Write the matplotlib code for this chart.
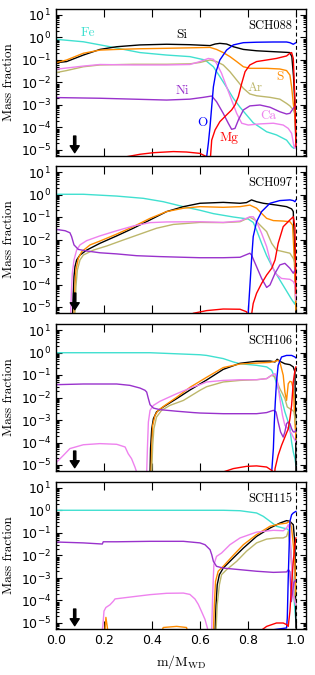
import numpy as np
import matplotlib
matplotlib.use("Agg")
import matplotlib.pyplot as plt
from matplotlib.ticker import LogLocator, NullLocator, FixedLocator

# ---- SCH088 (log10 mass fraction vs m/M_WD) ----
x_fe_088 = [0, 0.114, 0.225, 0.35, 0.461, 0.558, 0.621, 0.656, 0.683, 0.711, 0.739, 0.767, 0.794, 0.822, 0.85, 0.878, 0.919, 0.961, 0.982, 0.992, 1.0]
lg_fe_088 = [-0.08, -0.19, -0.41, -0.67, -0.78, -0.85, -1.0, -1.30, -1.74, -2.21, -2.70, -3.10, -3.44, -3.79, -3.99, -4.19, -4.33, -4.56, -4.85, -4.93, -4.70]
x_si_088 = [0, 0.044, 0.114, 0.183, 0.253, 0.35, 0.461, 0.558, 0.642, 0.663, 0.683, 0.711, 0.739, 0.781, 0.836, 0.906, 0.961, 0.975, 0.983, 0.990, 0.996, 1.0]
lg_si_088 = [-1.12, -1.07, -0.78, -0.53, -0.41, -0.33, -0.30, -0.32, -0.36, -0.29, -0.26, -0.29, -0.41, -0.53, -0.59, -0.63, -0.66, -0.67, -0.85, -1.74, -3.07, -4.85]
x_s_088 = [0, 0.044, 0.114, 0.183, 0.253, 0.35, 0.461, 0.558, 0.642, 0.669, 0.697, 0.725, 0.753, 0.781, 0.808, 0.878, 0.933, 0.961, 0.975, 0.982, 0.989, 0.996, 1.0]
lg_s_088 = [-1.12, -1.0, -0.70, -0.56, -0.53, -0.50, -0.48, -0.46, -0.44, -0.53, -0.67, -0.85, -1.07, -1.30, -1.37, -1.37, -1.40, -1.47, -1.67, -2.19, -2.93, -3.52, -4.26]
x_ar_088 = [0, 0.044, 0.114, 0.183, 0.322, 0.461, 0.558, 0.6, 0.642, 0.669, 0.697, 0.725, 0.753, 0.781, 0.808, 0.836, 0.892, 0.933, 0.961, 0.975, 0.989, 0.996, 1.0]
lg_ar_088 = [-1.56, -1.47, -1.30, -1.22, -1.19, -1.19, -1.17, -1.11, -1.0, -1.07, -1.22, -1.52, -1.89, -2.26, -2.51, -2.59, -2.66, -2.74, -2.93, -3.04, -3.22, -3.37, -3.30]
x_ca_088 = [0, 0.114, 0.183, 0.322, 0.461, 0.558, 0.6, 0.635, 0.656, 0.669, 0.69, 0.711, 0.732, 0.753, 0.774, 0.801, 0.85, 0.906, 0.947, 0.968, 0.982, 0.992, 0.997, 1.0]
lg_ca_088 = [-1.41, -1.27, -1.20, -1.22, -1.22, -1.20, -1.07, -0.93, -0.97, -1.15, -1.59, -2.19, -2.78, -3.37, -3.81, -3.89, -3.84, -3.81, -3.89, -4.04, -4.26, -4.85, -4.93, -4.70]
x_ni_088 = [0, 0.183, 0.322, 0.461, 0.558, 0.614, 0.649, 0.669, 0.697, 0.718, 0.732, 0.746, 0.76, 0.781, 0.808, 0.85, 0.892, 0.933, 0.961, 0.975, 0.989, 0.996, 1.0]
lg_ni_088 = [-2.67, -2.70, -2.74, -2.78, -2.74, -2.66, -2.60, -2.85, -3.37, -3.81, -4.08, -4.04, -3.67, -3.22, -3.04, -3.0, -3.10, -3.30, -3.40, -3.37, -3.15, -3.07, -3.04]
x_o_088 = [0.62, 0.628, 0.635, 0.642, 0.649, 0.656, 0.667, 0.683, 0.711, 0.739, 0.781, 0.836, 0.906, 0.961, 0.975, 0.989, 1.0]
lg_o_088 = [-6.0, -5.30, -4.70, -3.96, -3.07, -2.19, -1.52, -1.0, -0.56, -0.33, -0.23, -0.21, -0.20, -0.20, -0.23, -0.30, -0.23]
x_mg_088 = [0.28, 0.294, 0.35, 0.406, 0.489, 0.544, 0.6, 0.628, 0.642, 0.644, 0.649, 0.663, 0.683, 0.711, 0.732, 0.746, 0.76, 0.774, 0.788, 0.808, 0.836, 0.878, 0.919, 0.961, 0.975, 0.982, 0.989, 0.996, 1.0]
lg_mg_088 = [-5.6, -5.30, -5.19, -5.12, -5.07, -5.09, -5.15, -5.30, -5.6, -5.30, -4.56, -4.11, -3.74, -3.44, -3.22, -3.0, -2.63, -2.04, -1.52, -1.22, -1.07, -1.0, -0.93, -0.82, -0.70, -0.67, -0.93, -2.78, -4.85]

# ---- SCH097 ----
x_fe_097 = [0, 0.114, 0.253, 0.364, 0.447, 0.531, 0.6, 0.656, 0.739, 0.801, 0.822, 0.836, 0.857, 0.878, 0.906, 0.933, 0.961, 0.982, 0.996, 1.0]
lg_fe_097 = [0.01, 0.01, -0.07, -0.17, -0.32, -0.54, -0.70, -0.85, -1.0, -1.09, -1.24, -1.58, -2.17, -2.72, -3.31, -3.80, -4.29, -4.66, -4.88, -4.61]
x_si_097 = [0.067, 0.069, 0.072, 0.075, 0.079, 0.086, 0.100, 0.128, 0.183, 0.253, 0.322, 0.392, 0.461, 0.531, 0.6, 0.697, 0.767, 0.794, 0.815, 0.836, 0.864, 0.919, 0.961, 0.982, 0.989, 0.993, 0.997, 1.0]
lg_si_097 = [-5.8, -5.28, -4.39, -3.65, -3.21, -2.91, -2.69, -2.47, -2.17, -1.84, -1.50, -1.13, -0.76, -0.54, -0.39, -0.35, -0.39, -0.36, -0.24, -0.32, -0.39, -0.47, -0.54, -0.64, -0.76, -2.17, -3.65, -5.28]
x_s_097 = [0.072, 0.075, 0.079, 0.083, 0.093, 0.107, 0.142, 0.183, 0.253, 0.322, 0.392, 0.461, 0.531, 0.6, 0.697, 0.767, 0.808, 0.822, 0.836, 0.857, 0.878, 0.906, 0.947, 0.975, 0.986, 0.992, 0.996, 1.0]
lg_s_097 = [-5.8, -5.28, -4.10, -3.36, -2.84, -2.54, -2.24, -2.07, -1.76, -1.43, -1.06, -0.76, -0.61, -0.54, -0.57, -0.54, -0.47, -0.54, -0.61, -0.84, -1.06, -1.16, -1.18, -1.21, -1.36, -2.61, -3.65, -5.13]
x_ar_097 = [0.076, 0.079, 0.083, 0.089, 0.100, 0.114, 0.156, 0.211, 0.281, 0.350, 0.419, 0.489, 0.6, 0.697, 0.767, 0.808, 0.829, 0.857, 0.878, 0.899, 0.919, 0.947, 0.975, 0.989, 0.996, 1.0]
lg_ar_097 = [-5.8, -5.28, -4.10, -3.36, -2.91, -2.69, -2.47, -2.29, -2.02, -1.76, -1.50, -1.33, -1.24, -1.25, -1.21, -1.01, -1.13, -1.43, -1.65, -2.17, -2.47, -2.54, -2.61, -2.84, -3.06, -3.36]
x_ca_097 = [0.058, 0.061, 0.064, 0.068, 0.075, 0.086, 0.100, 0.128, 0.183, 0.253, 0.322, 0.392, 0.461, 0.6, 0.697, 0.767, 0.808, 0.822, 0.836, 0.857, 0.878, 0.892, 0.913, 0.940, 0.975, 0.989, 0.996, 1.0]
lg_ca_097 = [-5.8, -5.28, -4.39, -3.50, -2.91, -2.47, -2.24, -2.05, -1.84, -1.61, -1.40, -1.25, -1.22, -1.21, -1.24, -1.18, -0.99, -0.99, -1.21, -1.73, -2.32, -2.91, -3.50, -3.73, -3.77, -3.87, -4.02, -4.69]
x_ni_097 = [0, 0.038, 0.058, 0.065, 0.075, 0.093, 0.128, 0.183, 0.253, 0.336, 0.433, 0.531, 0.6, 0.697, 0.767, 0.808, 0.815, 0.836, 0.857, 0.878, 0.892, 0.913, 0.933, 0.954, 0.975, 0.989, 0.996, 1.0]
lg_ni_097 = [-1.55, -1.61, -1.70, -1.87, -2.24, -2.44, -2.51, -2.59, -2.64, -2.72, -2.76, -2.79, -2.81, -2.81, -2.79, -2.61, -2.69, -3.21, -3.73, -4.13, -4.02, -3.50, -3.13, -3.06, -3.28, -3.50, -3.36, -3.06]
x_o_097 = [0.799, 0.801, 0.808, 0.815, 0.822, 0.836, 0.857, 0.892, 0.933, 0.975, 0.989, 0.996, 1.0]
lg_o_097 = [-5.8, -5.28, -4.10, -2.91, -1.87, -1.21, -0.76, -0.39, -0.27, -0.24, -0.27, -0.32, -0.24]
x_mg_097 = [0.544, 0.572, 0.628, 0.697, 0.767, 0.794, 0.806, 0.811, 0.817, 0.822, 0.836, 0.857, 0.878, 0.899, 0.913, 0.926, 0.947, 0.975, 0.989, 0.996, 1.0]
lg_mg_097 = [-5.5, -5.28, -5.16, -5.09, -5.10, -5.21, -5.5, -5.7, -5.2, -4.84, -4.39, -3.95, -3.58, -3.28, -2.91, -2.17, -1.43, -1.13, -0.99, -1.43, -4.39]

# ---- SCH106 ----
x_fe_106 = [0, 0.183, 0.392, 0.6, 0.628, 0.697, 0.739, 0.767, 0.836, 0.878, 0.899, 0.913, 0.926, 0.940, 0.954, 0.968, 0.975, 0.982, 0.989, 0.996, 1.0]
lg_fe_106 = [-0.01, -0.01, -0.01, -0.10, -0.13, -0.27, -0.42, -0.50, -0.57, -0.64, -0.79, -1.16, -1.61, -2.05, -2.64, -3.09, -3.39, -3.98, -4.42, -4.72, -5.01]
x_si_106 = [0.389, 0.392, 0.394, 0.399, 0.406, 0.419, 0.447, 0.503, 0.558, 0.628, 0.697, 0.767, 0.836, 0.892, 0.913, 0.922, 0.933, 0.954, 0.975, 0.989, 0.996, 0.999, 1.0]
lg_si_106 = [-5.96, -5.31, -4.27, -3.39, -2.94, -2.64, -2.42, -2.05, -1.67, -1.22, -0.75, -0.48, -0.39, -0.38, -0.42, -0.30, -0.39, -0.50, -0.54, -0.64, -0.87, -3.44, -5.31]
x_s_106 = [0.393, 0.396, 0.399, 0.403, 0.413, 0.426, 0.454, 0.503, 0.558, 0.628, 0.697, 0.767, 0.836, 0.892, 0.913, 0.926, 0.933, 0.947, 0.954, 0.961, 0.968, 0.975, 0.982, 0.989, 0.996, 1.0]
lg_s_106 = [-5.96, -5.31, -4.27, -3.24, -2.79, -2.57, -2.35, -1.99, -1.55, -1.10, -0.67, -0.51, -0.47, -0.44, -0.39, -0.35, -0.42, -1.01, -1.76, -2.13, -1.39, -1.28, -1.31, -1.61, -3.09, -3.83]
x_ar_106 = [0.396, 0.399, 0.403, 0.408, 0.419, 0.440, 0.475, 0.531, 0.6, 0.628, 0.697, 0.767, 0.836, 0.878, 0.899, 0.913, 0.922, 0.933, 0.944, 0.954, 0.964, 0.975, 0.986, 0.992, 0.996, 1.0]
lg_ar_106 = [-5.96, -5.31, -4.13, -3.39, -2.87, -2.57, -2.35, -2.13, -1.68, -1.52, -1.31, -1.24, -1.21, -1.16, -1.01, -1.09, -1.31, -1.61, -1.83, -2.05, -2.42, -2.50, -2.57, -2.64, -2.94, -3.15]
x_ca_106 = [0, 0.003, 0.031, 0.058, 0.114, 0.183, 0.253, 0.288, 0.301, 0.315, 0.329, 0.336, 0.343, 0.371, 0.378, 0.381, 0.385, 0.392, 0.406, 0.433, 0.503, 0.572, 0.6, 0.628, 0.697, 0.767, 0.836, 0.878, 0.899, 0.913, 0.922, 0.933, 0.944, 0.954, 0.968, 0.982, 0.989, 0.996, 1.0]
lg_ca_106 = [-5.1, -4.87, -4.57, -4.27, -4.10, -4.05, -4.08, -4.20, -4.50, -4.72, -5.09, -5.31, -6.0, -6.0, -5.31, -4.27, -3.09, -2.57, -2.35, -2.17, -1.83, -1.53, -1.43, -1.31, -1.24, -1.21, -1.21, -1.16, -1.01, -0.94, -1.24, -2.05, -2.79, -3.24, -3.39, -3.61, -3.76, -3.90, -3.98]
x_ni_106 = [0, 0.114, 0.253, 0.308, 0.350, 0.371, 0.378, 0.385, 0.392, 0.406, 0.433, 0.503, 0.572, 0.6, 0.697, 0.836, 0.878, 0.906, 0.917, 0.926, 0.936, 0.947, 0.954, 0.961, 0.968, 0.975, 0.982, 0.989, 0.996, 1.0]
lg_ni_106 = [-1.43, -1.40, -1.40, -1.46, -1.58, -1.68, -1.76, -2.05, -2.32, -2.47, -2.54, -2.61, -2.67, -2.69, -2.72, -2.72, -2.67, -2.57, -2.64, -3.09, -3.53, -3.76, -3.53, -3.16, -3.09, -3.16, -3.39, -3.53, -3.53, -3.44]
x_o_106 = [0.892, 0.899, 0.906, 0.910, 0.914, 0.919, 0.926, 0.940, 0.961, 0.982, 0.996, 1.0]
lg_o_106 = [-6.0, -5.31, -4.27, -3.09, -2.20, -1.31, -0.57, -0.20, -0.13, -0.13, -0.20, -0.24]
x_mg_106 = [0.656, 0.669, 0.697, 0.739, 0.794, 0.836, 0.878, 0.899, 0.906, 0.908, 0.913, 0.926, 0.940, 0.954, 0.968, 0.975, 0.982, 0.989, 0.996, 1.0]
lg_mg_106 = [-5.8, -5.46, -5.31, -5.16, -5.06, -5.04, -5.09, -5.24, -5.31, -5.8, -5.16, -4.57, -4.13, -3.76, -3.39, -2.94, -2.35, -1.31, -0.79, -0.64]

# ---- SCH115 ----
x_fe_115 = [0, 0.6, 0.697, 0.767, 0.836, 0.864, 0.892, 0.919, 0.947, 0.961, 0.968, 0.975, 0.982, 0.989, 0.996, 1.0]
lg_fe_115 = [0.01, 0.01, 0.01, -0.01, -0.11, -0.26, -0.48, -0.70, -0.78, -0.81, -0.85, -1.22, -2.26, -3.44, -4.48, -4.93]
x_si_115 = [0.660, 0.663, 0.667, 0.672, 0.681, 0.697, 0.739, 0.781, 0.836, 0.892, 0.933, 0.961, 0.975, 0.982, 0.989, 0.996, 1.0]
lg_si_115 = [-6.0, -5.37, -4.19, -3.30, -2.85, -2.56, -2.11, -1.67, -1.15, -0.78, -0.56, -0.45, -0.48, -0.56, -0.63, -1.52, -5.22]
x_s_115 = [0.0, 0.200, 0.208, 0.214, 0.225, 0.419, 0.447, 0.503, 0.544, 0.565, 0.650, 0.656, 0.660, 0.665, 0.676, 0.697, 0.739, 0.781, 0.836, 0.892, 0.933, 0.961, 0.975, 0.982, 0.989, 0.996, 1.0]
lg_s_115 = [-7.0, -6.0, -4.75, -5.2, -6.0, -6.0, -5.2, -5.15, -5.2, -6.0, -6.0, -5.37, -4.19, -3.15, -2.70, -2.48, -1.99, -1.52, -1.07, -0.70, -0.60, -0.56, -0.48, -0.78, -1.52, -2.41, -3.76]
x_ar_115 = [0.663, 0.667, 0.672, 0.681, 0.690, 0.711, 0.753, 0.794, 0.836, 0.878, 0.919, 0.947, 0.961, 0.968, 0.975, 0.982, 0.992, 1.0]
lg_ar_115 = [-6.0, -5.37, -4.19, -3.30, -2.85, -2.63, -2.26, -1.81, -1.44, -1.27, -1.22, -1.22, -1.15, -0.93, -1.52, -2.41, -3.76, -4.2]
x_ca_115 = [0.190, 0.194, 0.197, 0.200, 0.208, 0.225, 0.239, 0.246, 0.322, 0.392, 0.461, 0.531, 0.558, 0.579, 0.593, 0.607, 0.621, 0.631, 0.639, 0.644, 0.649, 0.653, 0.658, 0.669, 0.690, 0.725, 0.767, 0.836, 0.906, 0.947, 0.961, 0.968, 0.975, 0.982, 0.989, 1.0]
lg_ca_115 = [-6.0, -5.22, -4.90, -4.47, -4.31, -4.19, -4.03, -3.93, -3.83, -3.74, -3.68, -3.67, -3.73, -3.93, -4.17, -4.50, -4.84, -5.22, -6.0, -6.0, -5.30, -3.74, -2.41, -2.04, -1.89, -1.52, -1.22, -0.96, -0.88, -0.90, -0.78, -0.63, -0.93, -2.41, -3.76, -4.2]
x_ni_115 = [0, 0.114, 0.193, 0.197, 0.253, 0.392, 0.531, 0.6, 0.621, 0.642, 0.649, 0.656, 0.669, 0.697, 0.767, 0.836, 0.906, 0.961, 0.969, 0.975, 0.981, 0.986, 0.992, 1.0]
lg_ni_115 = [-1.40, -1.44, -1.49, -1.39, -1.39, -1.37, -1.37, -1.44, -1.52, -1.74, -1.96, -2.26, -2.48, -2.56, -2.63, -2.70, -2.75, -2.73, -2.63, -2.72, -4.05, -3.61, -3.19, -3.09]
x_o_115 = [0.892, 0.906, 0.961, 0.964, 0.968, 0.972, 0.975, 0.982, 0.989, 1.0]
lg_o_115 = [-6.0, -5.30, -5.22, -4.78, -2.99, -1.52, -0.48, -0.19, -0.11, -0.04]
x_mg_115 = [0.836, 0.850, 0.878, 0.919, 0.947, 0.961, 0.968, 0.975, 0.982, 0.989, 0.996, 1.0]
lg_mg_115 = [-6.0, -5.37, -5.15, -5.0, -5.0, -5.07, -5.15, -4.48, -3.30, -2.26, -1.52, -1.22]

models = ["SCH088", "SCH097", "SCH106", "SCH115"]
elements = ["Fe", "Si", "S", "Ar", "Ca", "Ni", "O", "Mg"]
colors = {"Fe": "#40E0D0", "Si": "k", "S": "#FF8C00", "Ar": "#BDB76B",
          "Ca": "#EE82EE", "Ni": "#9932CC", "O": "#0000FF", "Mg": "#FF0000"}

curves = [
    {"Fe": (x_fe_088, lg_fe_088), "Si": (x_si_088, lg_si_088), "S": (x_s_088, lg_s_088), "Ar": (x_ar_088, lg_ar_088),
     "Ca": (x_ca_088, lg_ca_088), "Ni": (x_ni_088, lg_ni_088), "O": (x_o_088, lg_o_088), "Mg": (x_mg_088, lg_mg_088)},
    {"Fe": (x_fe_097, lg_fe_097), "Si": (x_si_097, lg_si_097), "S": (x_s_097, lg_s_097), "Ar": (x_ar_097, lg_ar_097),
     "Ca": (x_ca_097, lg_ca_097), "Ni": (x_ni_097, lg_ni_097), "O": (x_o_097, lg_o_097), "Mg": (x_mg_097, lg_mg_097)},
    {"Fe": (x_fe_106, lg_fe_106), "Si": (x_si_106, lg_si_106), "S": (x_s_106, lg_s_106), "Ar": (x_ar_106, lg_ar_106),
     "Ca": (x_ca_106, lg_ca_106), "Ni": (x_ni_106, lg_ni_106), "O": (x_o_106, lg_o_106), "Mg": (x_mg_106, lg_mg_106)},
    {"Fe": (x_fe_115, lg_fe_115), "Si": (x_si_115, lg_si_115), "S": (x_s_115, lg_s_115), "Ar": (x_ar_115, lg_ar_115),
     "Ca": (x_ca_115, lg_ca_115), "Ni": (x_ni_115, lg_ni_115), "O": (x_o_115, lg_o_115), "Mg": (x_mg_115, lg_mg_115)},
]

serif = "cmr10"
W, H = 315, 675
fig = plt.figure(figsize=(W / 100, H / 100), dpi=100)

p10 = [15, 172, 330, 488]   # pixel row of the 10^1 tick in each panel
dec = 22.5                  # pixels per decade
for i, (name, cur) in enumerate(zip(models, curves)):
    top = p10[i] - 0.28 * dec
    bot = p10[i] + 6 * dec + 0.28 * dec
    ax = fig.add_axes([56 / W, 1 - bot / H, 250 / W, (bot - top) / H])
    for el in elements:
        xs, lg = cur[el]
        ax.plot(xs, 10 ** np.array(lg), color=colors[el], lw=1.0)
    ax.axvline(1.0, color="k", ls="--", lw=0.8, dashes=(3.5, 2.5))
    ax.set_yscale("log")
    ax.set_xlim(0, 1.042)
    ax.set_ylim(10 ** -5.28, 10 ** 1.28)
    ax.yaxis.set_major_locator(FixedLocator([1e-5, 1e-4, 1e-3, 1e-2, 1e-1, 1e0, 1e1]))
    ax.yaxis.set_minor_locator(LogLocator(base=10, subs=np.arange(2, 10), numticks=20))
    ax.set_xticks([0.0, 0.2, 0.4, 0.6, 0.8, 1.0])
    ax.xaxis.set_minor_locator(NullLocator())
    ax.tick_params(which="both", direction="in", top=True, right=True, labelsize=9, width=0.8)
    ax.tick_params(axis="x", which="major", length=6)
    ax.tick_params(axis="y", which="major", length=4)
    ax.tick_params(axis="y", which="minor", length=2)
    for sp in ax.spines.values():
        sp.set_linewidth(1.0)
    if i < 3:
        ax.tick_params(labelbottom=False)
    else:
        ax.set_xlabel(r"$\mathrm{m/M_{WD}}$", fontsize=10, math_fontfamily="cm")
    ax.set_ylabel("Mass fraction", fontsize=9.5, family=serif)
    ax.yaxis.set_label_coords(-0.163, 0.5)
    ax.text(0.985, 10 ** 0.5, name, ha="right", va="center", fontsize=9, family=serif)
    ax.annotate("", xy=(0.078, 10 ** -5.12), xytext=(0.078, 10 ** -4.38),
                arrowprops=dict(facecolor="k", edgecolor="k", width=1.6, headwidth=6.5,
                                headlength=5, shrink=0))
    if i == 0:
        labels = [("Fe", 0.133, 0.2), ("Si", 0.525, 0.11), ("S", 0.933, -1.76), ("Ar", 0.829, -2.24),
                  ("Ni", 0.528, -2.38), ("Ca", 0.883, -3.49), ("O", 0.61, -3.8), ("Mg", 0.721, -4.47)]
        for el, lx, ly in labels:
            ax.text(lx, 10 ** ly, el, color=colors[el], ha="center", va="center",
                    fontsize=9.5, family=serif)

fig.savefig("out.png", dpi=100)
